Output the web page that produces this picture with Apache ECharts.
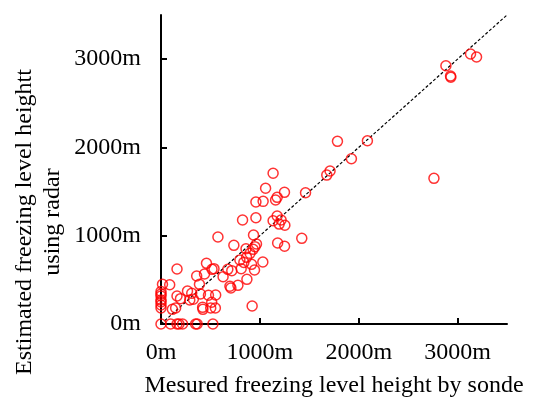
<!DOCTYPE html>
<html>
<head>
<meta charset="utf-8">
<script src="https://cdn.jsdelivr.net/npm/echarts@6/dist/echarts.min.js"></script>
<style>
html,body{margin:0;padding:0;background:#fff;}
#chart{width:536px;height:399px;}
</style>
</head>
<body>
<div id="chart"></div>
<script>
// Measured freezing level height by sonde (m)
var sonde = [3131,3192,2882,2929,2932,2761,2088,1785,1926,1710,1677,1462,1249,
  1134,1058,1175,1159,1033,960,825,960,1134,1175,1215,1195,1253,936,576,1424,
  737,1180,1250,860,950,966,932,900,866,798,838,916,946,1030,811,869,
  460,516,536,440,676,716,628,361,162,389,697,707,778,88,15,
  268,311,399,480,553,162,197,291,327,513,421,503,550,424,115,148,922,
  0,0,0,0,0,0,0,
  0,97,162,182,218,350,366,525];
// Estimated freezing level height using radar (m)
var radar = [3058,3024,2925,2808,2795,1650,2076,2069,1872,1733,1687,1487,1491,
  1707,1537,1435,1404,1389,1382,1178,1204,1170,1223,1178,1132,1118,1008,985,970,
  891,917,880,853,876,906,846,800,755,725,698,676,612,702,627,506,
  687,619,627,566,619,604,536,544,623,449,427,408,438,445,449,
  374,347,340,325,328,317,287,272,280,246,189,181,181,166,166,181,204,
  368,317,272,215,181,340,250,
  0,0,0,0,0,0,0,0];
// 1:1 reference line
var refX = [0, 3500];
var refY = [0, 3500];
// axis ticks
var xTicks = [0, 1000, 2000, 3000];
var yTicks = [0, 1000, 2000, 3000];

var points = sonde.map(function(x, i){ return [x, radar[i]]; });
var refLine = refX.map(function(x, i){ return [x, refY[i]]; });

var font = '"Liberation Serif", "Times New Roman", serif';
var chart = echarts.init(document.getElementById('chart'), null, {renderer:'canvas'});
chart.setOption({
  animation: false,
  backgroundColor: '#fff',
  grid: {left: 161, right: 29, top: 15, bottom: 75, containLabel: false},
  xAxis: {
    type: 'value', min: 0, max: 3500, interval: 1000,
    splitLine: {show: false},
    axisLine: {show: true, onZero: false, lineStyle: {color: '#000', width: 2}},
    axisTick: {show: true, inside: true, length: 6, lineStyle: {color: '#000', width: 2}, customValues: xTicks},
    axisLabel: {color: '#000', fontFamily: font, fontSize: 24, margin: 17,
      customValues: xTicks, formatter: function(v){ return v + 'm'; }}
  },
  yAxis: {
    type: 'value', min: 0, max: 3500, interval: 1000,
    splitLine: {show: false},
    axisLine: {show: true, onZero: false, lineStyle: {color: '#000', width: 2}},
    axisTick: {show: true, inside: true, length: 6, lineStyle: {color: '#000', width: 2}, customValues: yTicks},
    axisLabel: {color: '#000', fontFamily: font, fontSize: 24, margin: 20,
      customValues: yTicks, formatter: function(v){ return v + 'm'; }}
  },
  graphic: [
    {type: 'text', x: 334, y: 386, style: {text: 'Mesured freezing level height by sonde',
      font: '24px ' + font, fill: '#000', textAlign: 'center', textVerticalAlign: 'middle'}},
    {type: 'text', x: 39, y: 222, rotation: Math.PI / 2, style: {text: 'Estimated freezing level heightt\nusing radar',
      font: '24px ' + font, fill: '#000', textAlign: 'center', textVerticalAlign: 'middle', lineHeight: 28}}
  ],
  series: [
    {
      type: 'line', data: refLine, symbol: 'none', silent: true, z: 1,
      lineStyle: {color: '#000', width: 1.2, type: [3, 2]}
    },
    {
      type: 'scatter', data: points, symbol: 'circle', symbolSize: 10, z: 2,
      itemStyle: {color: 'rgba(0,0,0,0)', borderColor: '#ff0000', borderWidth: 1.5}
    }
  ]
});
</script>
</body>
</html>
